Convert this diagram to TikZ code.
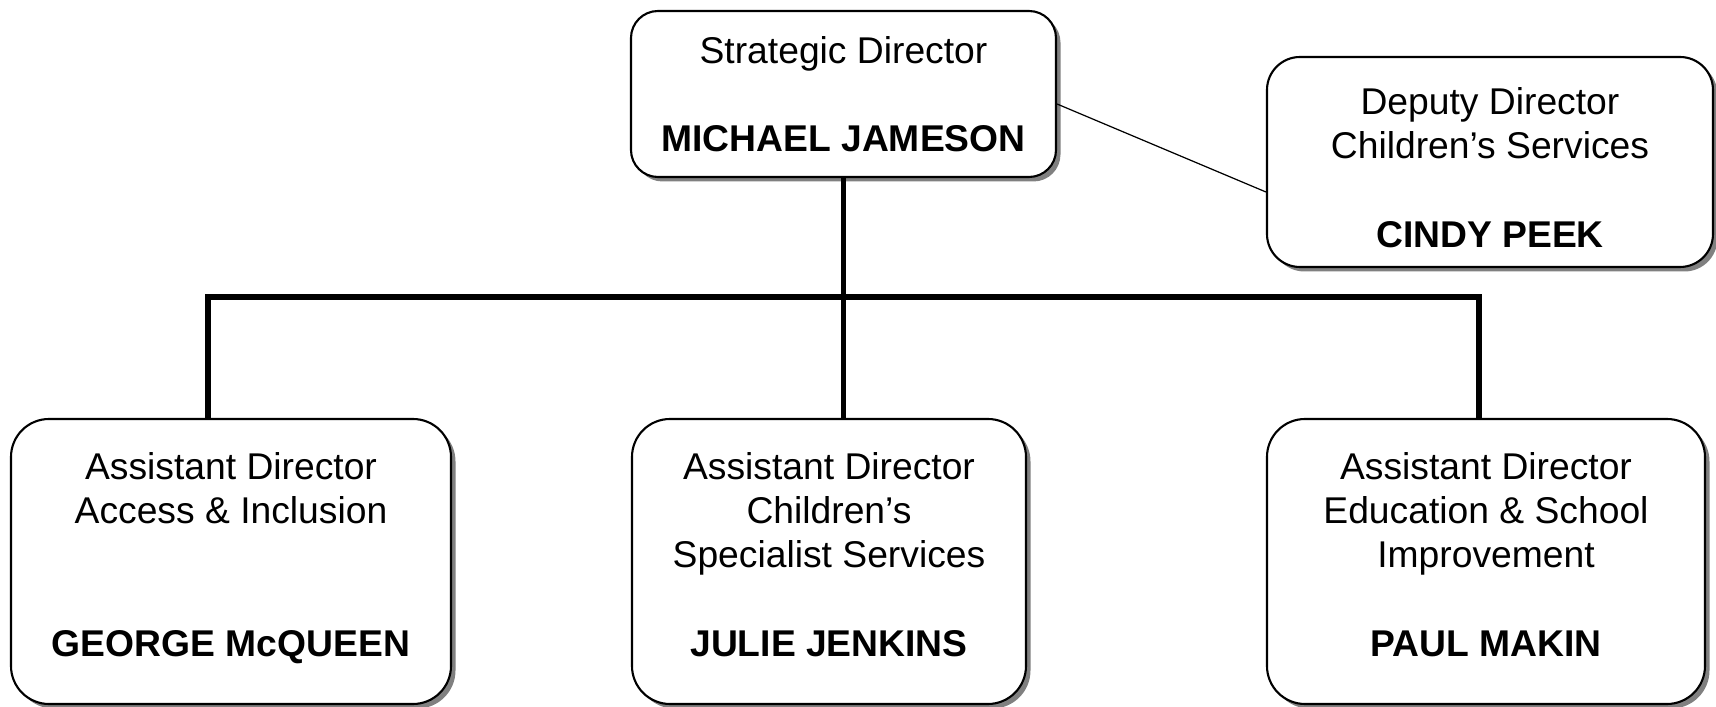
\documentclass[tikz,border=0pt]{standalone}
\usepackage{fontspec}
\setmainfont{Liberation Sans}
\usepackage{tikz}
\usetikzlibrary{positioning}
\usetikzlibrary{shadows}

\begin{document}
\begin{tikzpicture}[every node/.style={font=\fontsize{10.6}{12.6}\selectfont},
				box/.style={rectangle,draw,line width=0.6pt,fill=white,align=center,inner sep=0pt,
					drop shadow={shadow xshift=0.45mm,shadow yshift=-0.45mm,fill=black!50,opacity=1}},
				rootnode/.style={box,rounded corners=2.7mm,minimum width=4.25cm,minimum height=1.66cm},
				sidenode/.style={box,rounded corners=3.3mm,minimum width=4.46cm,minimum height=2.10cm},
				pnode/.style={box,rounded corners=3.8mm,minimum height=2.85cm,text height=53.9pt,text depth=0pt},
				trunk/.style={line width=1.5pt},
				twig/.style={line width=0.35pt}
				]
				\useasboundingbox (0,0) rectangle (17.16,7.07);
				% top row
				\node (sd) [rootnode] at (8.435,6.13) {Strategic Director\\~\\\textbf{MICHAEL JAMESON}};
				\node (dd) [sidenode] at (14.90,5.45) {\rule{0pt}{10.8pt}Deputy Director\\Children’s Services\\~\\\textbf{CINDY PEEK}};
				% assistant directors
				\node (acc) [pnode,minimum width=4.40cm] at (2.31,1.455) {Assistant Director\\Access \& Inclusion\\~\\~\\\textbf{GEORGE McQUEEN}};
				\node (csp) [pnode,minimum width=3.94cm] at (8.29,1.455) {Assistant Director\\Children’s\\Specialist Services\\~\\\textbf{JULIE JENKINS}};
				\node (edu) [pnode,minimum width=4.38cm] at (14.86,1.455) {Assistant Director\\Education \& School\\Improvement\\~\\\textbf{PAUL MAKIN}};
				\coordinate (busl) at (2.08,4.10);
				\coordinate (busr) at (14.79,4.10);
				% connectors
				\draw[trunk] (sd.south) -- (sd.south |- csp.north);
				\draw[trunk] (busl |- acc.north) -- (busl) -- (busr) -- (busr |- edu.north);
				\draw[twig] ([yshift=-1mm]sd.east) -- ([yshift=-3mm]dd.west);
\end{tikzpicture}
\end{document}
